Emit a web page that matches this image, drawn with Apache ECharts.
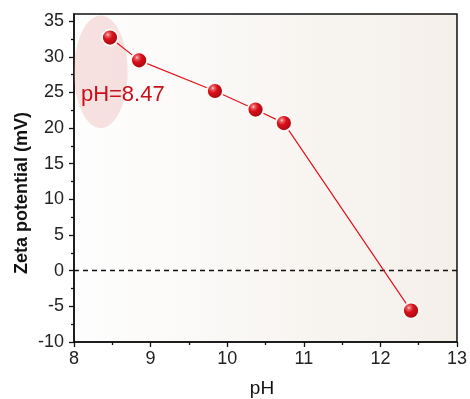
<!DOCTYPE html>
<html>
<head>
<meta charset="utf-8">
<script src="https://cdn.jsdelivr.net/npm/echarts@6/dist/echarts.min.js"></script>
<style>
  html, body { margin: 0; padding: 0; background: #ffffff; }
  #chart { width: 470px; height: 399px; }
</style>
</head>
<body>
<div id="chart"></div>
<script>
// Zeta potential of the suspension measured at different pH values
const phValues   = [8.47, 8.85, 9.84, 10.37, 10.74, 12.40];
const zetaValues = [32.7, 29.5, 25.2, 22.6, 20.7, -5.6];

// Axis ticks
const yMajorTicks = [-10, -5, 0, 5, 10, 15, 20, 25, 30, 35];
const yMinorTicks = [-7.5, -2.5, 2.5, 7.5, 12.5, 17.5, 22.5, 27.5, 32.5];

// Isoelectric-region annotation text
const noteText = 'pH=8.47';

const font = 'Arial, "Liberation Sans", Helvetica, sans-serif';
const chart = echarts.init(document.getElementById('chart'), null, { renderer: 'canvas' });

const points = phValues.map((x, i) => [x, zetaValues[i]]);

const sphere = new echarts.graphic.RadialGradient(0.38, 0.34, 0.66, [
  { offset: 0, color: '#ffe4e4' },
  { offset: 0.12, color: '#f06a6e' },
  { offset: 0.4, color: '#d8101a' },
  { offset: 1, color: '#a00810' }
]);

chart.setOption({
  animation: false,
  grid: {
    left: 74, right: 11, top: 14, bottom: 57,
    show: true,
    borderColor: '#111',
    borderWidth: 1.5,
    backgroundColor: new echarts.graphic.LinearGradient(0, 0, 1, 0, [
      { offset: 0, color: '#fefefe' },
      { offset: 1, color: '#f4efe9' }
    ])
  },
  xAxis: {
    type: 'value', min: 8, max: 13, interval: 1,
    axisLine: { onZero: false, lineStyle: { color: '#111', width: 1.5 } },
    axisTick: { inside: false, length: 5, lineStyle: { color: '#111', width: 1.3 } },
    minorTick: { show: true, splitNumber: 2, length: 3, lineStyle: { color: '#111', width: 1.3 } },
    axisLabel: { fontFamily: font, fontSize: 18, color: '#222', margin: 8 },
    splitLine: { show: false }
  },
  yAxis: [{
    type: 'value', min: -10, max: 36,
    axisLine: { show: true, lineStyle: { color: '#111', width: 1.5 } },
    axisTick: { show: true, length: 5, customValues: yMajorTicks, lineStyle: { color: '#111', width: 1.3 } },
    axisLabel: { fontFamily: font, fontSize: 18, color: '#222', margin: 10, customValues: yMajorTicks },
    splitLine: { show: false }
  }, {
    type: 'value', min: -10, max: 36, position: 'left',
    axisLine: { show: false },
    axisTick: { show: true, length: 3, customValues: yMinorTicks, lineStyle: { color: '#111', width: 1.3 } },
    axisLabel: { show: false },
    splitLine: { show: false }
  }],
  series: [{
    type: 'line',
    data: points,
    z: 5,
    symbol: 'circle',
    symbolSize: 16,
    lineStyle: { color: '#e0141e', width: 1.2 },
    itemStyle: { color: sphere, borderColor: '#fbf9f6', borderWidth: 1.8 },
    markLine: {
      silent: true,
      symbol: 'none',
      label: { show: false },
      lineStyle: { color: '#111', width: 1.3, type: [5, 4] },
      data: [{ yAxis: 0 }]
    }
  }]
});

// Annotation ellipse, note text and axis titles
const c = chart.convertToPixel({ gridIndex: 0 }, [8.35, 27.9]);
const ex = chart.convertToPixel({ gridIndex: 0 }, [8.70, 35.8]);
const t = chart.convertToPixel({ gridIndex: 0 }, [8.09, 24.7]);
chart.setOption({
  graphic: [
    {
      type: 'ellipse', z: 1, silent: true,
      shape: { cx: c[0], cy: c[1], rx: ex[0] - c[0], ry: c[1] - ex[1] },
      style: { fill: 'rgba(232, 160, 160, 0.3)' }
    },
    {
      type: 'text', z: 10, x: t[0], y: t[1],
      style: { text: noteText, fill: '#c8101a', font: '22px ' + font, textAlign: 'left', textVerticalAlign: 'middle' }
    },
    {
      type: 'text', z: 10, x: 22, y: 193, rotation: Math.PI / 2,
      style: { text: 'Zeta potential (mV)', fill: '#111', font: 'bold 18px ' + font, textAlign: 'center', textVerticalAlign: 'middle' }
    },
    {
      type: 'text', z: 10, x: 262, y: 389,
      style: { text: 'pH', fill: '#111', font: '19px ' + font, textAlign: 'center', textVerticalAlign: 'middle' }
    }
  ]
});
</script>
</body>
</html>
